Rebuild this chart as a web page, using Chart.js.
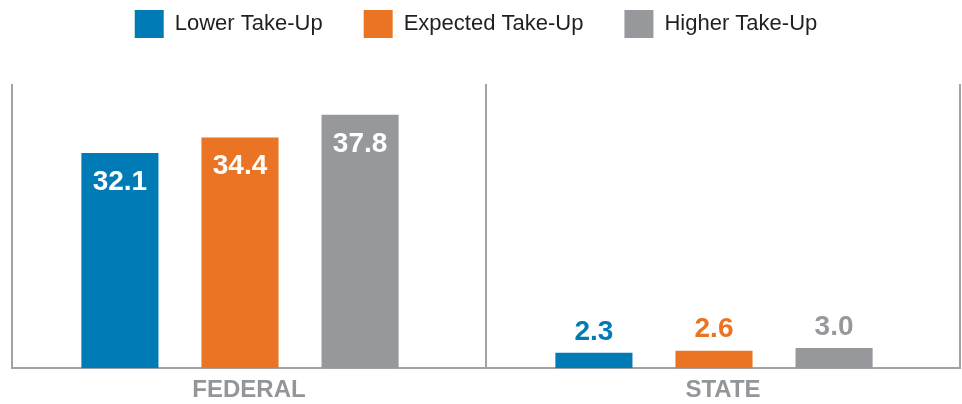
<!DOCTYPE html>
<html>
<head>
<meta charset="utf-8">
<title>Take-Up Scenarios</title>
<script src="https://cdn.jsdelivr.net/npm/chart.js@4.4.1/dist/chart.umd.min.js"></script>
<style>
  html, body { margin: 0; padding: 0; background: #ffffff; }
  #wrap { position: relative; width: 962px; height: 404px; }
</style>
</head>
<body>
<div id="wrap"><canvas id="takeUpChart"></canvas></div>
<script>
// Chart data
const categories = ["FEDERAL", "STATE"];
const seriesNames = ["Lower Take-Up", "Expected Take-Up", "Higher Take-Up"];
const lowerTakeUp = [32.1, 2.3];
const expectedTakeUp = [34.4, 2.6];
const higherTakeUp = [37.8, 3.0];

const colors = ["#007bb6", "#ea7423", "#97989b"];
const FONT = "'Liberation Sans', Arial, Helvetica, sans-serif";

// Value labels: inside the bar (white) when tall, above it (bar colour) when short
const valueLabels = {
  id: "valueLabels",
  afterDatasetsDraw(chart) {
    const { ctx } = chart;
    ctx.save();
    ctx.font = "bold 28px " + FONT;
    ctx.textAlign = "center";
    ctx.textBaseline = "middle";
    chart.data.datasets.forEach((ds, i) => {
      const meta = chart.getDatasetMeta(i);
      meta.data.forEach((bar, j) => {
        const value = ds.data[j];
        const text = value.toFixed(1);
        const height = bar.base - bar.y;
        if (height > 60) {
          ctx.fillStyle = "#ffffff";
          ctx.fillText(text, bar.x, bar.y + 29);
        } else {
          ctx.fillStyle = ds.backgroundColor;
          ctx.fillText(text, bar.x, bar.y - 21);
        }
      });
    });
    ctx.restore();
  },
};

// Extra room under the legend, legend nudged left, bar groups nudged left
const layoutTweaks = {
  id: "layoutTweaks",
  beforeInit(chart) {
    const fit = chart.legend.fit;
    chart.legend.fit = function () {
      fit.bind(chart.legend)();
      this.height += 36;
    };
  },
  afterLayout(chart) {
    chart.legend.left -= 10;
    chart.legend.right -= 10;
  },
  afterDatasetsUpdate(chart) {
    chart.data.datasets.forEach((ds, i) => {
      chart.getDatasetMeta(i).data.forEach((bar) => {
        bar.x -= 9;
      });
    });
  },
};

const datasets = [lowerTakeUp, expectedTakeUp, higherTakeUp].map((data, i) => ({
  label: seriesNames[i],
  data: data,
  backgroundColor: colors[i],
  borderWidth: 0,
  categoryPercentage: 0.76,
  barPercentage: 0.642,
}));

new Chart(document.getElementById("takeUpChart"), {
  type: "bar",
  data: { labels: categories, datasets: datasets },
  plugins: [valueLabels, layoutTweaks],
  options: {
    responsive: true,
    maintainAspectRatio: false,
    animation: false,
    layout: { padding: { top: -31, left: 12, right: 2, bottom: -9 } },
    plugins: {
      tooltip: { enabled: false },
      legend: {
        display: true,
        position: "top",
        labels: {
          boxWidth: 29,
          boxHeight: 28,
          padding: 41,
          color: "#231f20",
          font: { family: FONT, size: 22 },
        },
      },
    },
    scales: {
      x: {
        grid: {
          display: true,
          offset: true,
          color: "#a3a3a6",
          lineWidth: 2,
          drawTicks: false,
        },
        border: { display: true, color: "#a3a3a6", width: 2 },
        ticks: {
          padding: 8,
          color: "#939598",
          font: { family: FONT, size: 24, weight: "bold" },
        },
      },
      y: {
        display: false,
        beginAtZero: true,
        min: 0,
        max: 42.4,
      },
    },
  },
});
</script>
</body>
</html>
